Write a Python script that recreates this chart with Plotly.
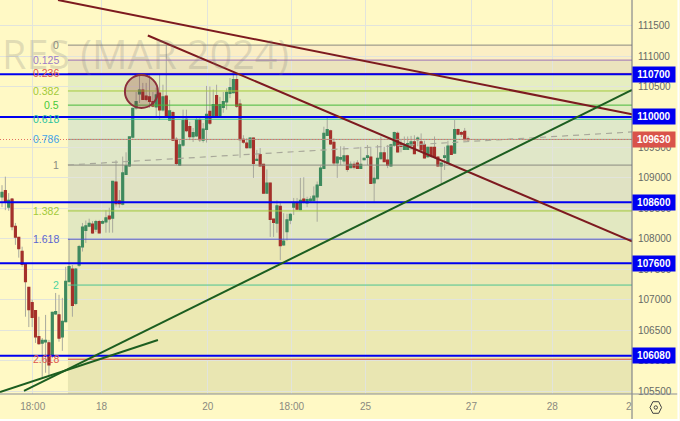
import plotly.graph_objects as go

# --- data -----------------------------------------------------------------
opens = [108690,108790,108520,108650,108200,108020,107790,107580,107200,106950,
106820,106390,106290,106310,106290,106090,106770,106750,106390,106640,
107300,107500,106940,107570,107870,108140,108210,108240,108160,108280,
108260,108280,108370,108340,108930,108620,108570,109060,109200,109670,
110150,110380,110440,110340,110330,110250,110170,110390,110120,110340,
109950,110070,109630,109210,109540,109960,109840,109680,109690,109950,
109620,109800,110090,110030,110350,110030,110160,110250,110390,110400,
110610,110210,109630,109570,109500,109650,109290,109380,109220,108750,
108910,108320,108260,108530,107900,108120,108310,108520,108590,108480,
108650,108590,108630,108630,108690,108880,109160,109700,109770,109580,
109250,109310,109280,109360,109170,109220,109240,109160,109300,109340,
109340,108920,108990,109320,109410,109290,109200,109540,109730,109560,
109470,109470,109540,109590,109630,109590,109540,109350,109500,109500,
109340,109200,109340,109240,109520,109410,109790,109740,109760,109640]
highs = [108880,109020,108750,108670,108260,108030,107870,107600,107210,107000,
106830,106720,106370,106750,106340,106800,107110,107080,107030,107540,
108000,107570,107520,107900,108260,108300,108330,108290,108310,108310,
108310,108470,108510,108950,109290,108800,109350,109420,109670,110150,
110410,110690,110560,110560,110690,110410,110480,110690,110530,111180,
110280,110100,109670,109620,110120,110120,109920,109820,109980,110000,
109900,110510,110500,110450,110530,110330,110410,110470,110640,110690,
110720,110290,109700,109650,109670,109660,109460,109490,109230,109140,
108920,108325,108630,108610,108420,108410,108420,108670,108670,109000,
109010,108690,108700,108860,108940,109200,109840,109990,109790,109650,
109350,109520,109520,109380,109270,109270,109290,109510,109330,109540,
109510,109180,109540,109680,109510,109540,109560,109760,109760,109620,
109680,109680,109690,109700,109680,109730,109610,109510,109510,109680,
109340,109240,109510,109610,109540,109950,109810,109770,109820,109680]
lows = [108520,108470,108460,108140,107900,107690,107540,106720,106550,106550,
106290,106260,105710,105800,105760,106040,106750,106310,106160,106630,
107290,106720,106910,107540,107790,107930,108190,108080,108110,108090,
108240,108100,108100,108100,108530,108510,108550,109060,109180,109650,
110120,110230,110280,110260,110150,110160,110000,109950,110090,110000,
109950,109610,109210,109200,109510,109750,109620,109590,109670,109590,
109580,109580,109870,110030,110000,110030,110070,110120,110310,110390,
110150,109330,109560,109480,109480,109000,109280,109190,108740,108740,
108030,108030,108100,107650,107890,107970,108240,108390,108470,108470,
108580,108520,108590,108620,108280,108880,109160,109700,109540,109210,
109000,109210,109230,109100,109160,109140,109150,109160,109290,109210,
108900,108610,108980,109300,109270,109160,109180,109510,109420,109420,
109460,109460,109460,109390,109520,109420,109320,109330,109330,109320,
109180,108910,109130,109240,109390,109400,109700,109670,109620,109610]
closes = [108760,108610,108630,108200,108030,107840,107580,107300,106840,106710,
106390,106280,106330,106330,105930,106790,106800,106370,106640,107300,
107540,106910,107500,107870,108190,108210,108250,108100,108280,108100,
108280,108340,108330,108940,108580,108580,109080,109200,109670,110140,
110250,110440,110290,110290,110260,110180,110360,110120,110330,110010,
110100,109620,109240,109540,109940,109780,109680,109740,109950,109630,
109800,110040,109900,110200,110030,110200,110250,110400,110480,110610,
110180,109630,109590,109500,109650,109240,109300,109200,108750,108910,
108320,108270,108540,107890,107960,108310,108400,108580,108490,108630,
108600,108640,108650,108700,108880,109160,109730,109790,109560,109250,
109340,109330,109360,109140,109220,109180,109160,109220,109320,109360,
108910,108990,109320,109410,109270,109210,109540,109740,109430,109520,
109540,109560,109590,109400,109650,109460,109330,109500,109360,109340,
109200,109240,109360,109520,109390,109790,109720,109720,109630,109630]

y_ticks = [105500,106000,106500,107000,107500,108000,108500,109000,109500,110000,110500,111000,111500]
x_tick_vals = [9.15,29.7,61.4,86.35,108.4,140,164.1]
x_tick_text = ["18:00","18","20","18:00","25","27","28"]

fib_labels = ["0","0.125","0.236","0.382","0.5","0.618","0.786","1","1.382","1.618","2","2.618"]
fib_prices = [111180,110934,110715,110427,110195,109963,109632,109210,108457,107993,107240,106022]
fib_line_colors = ["#8a8a80","#9c6fb8","#d85a4e","#a3c93a","#46b93a","#2cc3a0","#9a9a90","#8a8a80","#a3c93a","#4a55c8","#4cc490","#d9483f"]
fib_text_colors = ["#8a8a80","#9c7cc8","#e0584e","#a3c93a","#46c93a","#2cc3a0","#45a5e8","#8a8a80","#a3c93a","#5a65d0","#4cd4a0","#e0584e"]
band_colors = ["#fbeec5","#ebe3bd","#e6eec0","#e3ecc0","#e1ebc2","#dfe8c9","#e0e7c8","#e0e2c3","#e2e8c1","#ebe8b4","#ece9b3","#e9e6b2"]

blue_levels = [110700,110000,108600,107600,106080]
last_price = 109630

line_dark1_x = [16.7,187.9];  line_dark1_y = [111921,110044]
line_dark2_x = [43.5,187.9];  line_dark2_y = [111338,107956]
line_green1_x = [6.56,187.9]; line_green1_y = [105501,110443]
line_green2_x = [-0.6,46.5];  line_green2_y = [105484,106338]
line_dash_x = [19.67,187.9];  line_dash_y = [109212,109754]

X_MIN, X_MAX = -0.596, 187.9
Y_MIN, Y_MAX = 105451, 111921
FIB_X0 = 19.67
BG = "#fff9c5"
PW, PH = 632.5, 394.0
def px(v): return v / PW
def py(v): return (PH - v) / PH

idx = list(range(len(opens)))
fig = go.Figure()

# fib lines
for p, c in zip(fib_prices, fib_line_colors):
    fig.add_trace(go.Scatter(x=[FIB_X0, X_MAX], y=[p, p], mode="lines",
                             line=dict(color=c, width=1), hoverinfo="skip", showlegend=False))
# dashed + last price
fig.add_trace(go.Scatter(x=line_dash_x, y=line_dash_y, mode="lines",
                         line=dict(color="#a8a89a", width=1.2, dash="6px,5px"), showlegend=False))
fig.add_trace(go.Scatter(x=[X_MIN, X_MAX], y=[last_price, last_price], mode="lines",
                         line=dict(color="#e2705f", width=1, dash="1px,2px"), showlegend=False))
# wicks
fig.add_trace(go.Candlestick(x=idx, open=opens, high=highs, low=lows, close=closes,
    increasing=dict(line=dict(color="#a9aa9d", width=1), fillcolor="#a9aa9d"),
    decreasing=dict(line=dict(color="#a9aa9d", width=1), fillcolor="#a9aa9d"),
    whiskerwidth=0, showlegend=False, hoverinfo="skip"))
# bodies
body_hi = [max(o, c) for o, c in zip(opens, closes)]
body_lo = [min(o, c) for o, c in zip(opens, closes)]
fig.add_trace(go.Candlestick(x=idx, open=opens, high=body_hi, low=body_lo, close=closes,
    increasing=dict(line=dict(color="#3f8a5e", width=1.5), fillcolor="#3f8a5e"),
    decreasing=dict(line=dict(color="#a5302a", width=1.5), fillcolor="#a5302a"),
    whiskerwidth=0, showlegend=False, hoverinfo="skip"))
# blue levels
for p in blue_levels:
    fig.add_trace(go.Scatter(x=[X_MIN, X_MAX], y=[p, p], mode="lines",
                             line=dict(color="#0000f0", width=2), showlegend=False))
# trend lines
for xs, ys, col in [(line_dark1_x, line_dark1_y, "#7d1a1f"), (line_dark2_x, line_dark2_y, "#7d1a1f"),
                    (line_green1_x, line_green1_y, "#1c5e20"), (line_green2_x, line_green2_y, "#1c5e20")]:
    fig.add_trace(go.Scatter(x=xs, y=ys, mode="lines", line=dict(color=col, width=2), showlegend=False))

shapes = []
# fib bands
lower = fib_prices[1:] + [Y_MIN]
for top, bot, col in zip(fib_prices, lower, band_colors):
    shapes.append(dict(type="rect", xref="x", yref="y", x0=FIB_X0, x1=X_MAX, y0=bot, y1=top,
                       fillcolor=col, line=dict(width=0), layer="below"))
# circle marker
shapes.append(dict(type="circle", xref="x", yref="y", x0=36.66, x1=46.5, y0=110148, y1=110689,
                   fillcolor="rgba(125,40,50,0.27)", line=dict(color="#8b2f3a", width=2), layer="above"))
# axis borders
shapes.append(dict(type="line", xref="paper", yref="paper", x0=1, x1=1, y0=py(0), y1=py(421),
                   line=dict(color="#6f7380", width=1)))
shapes.append(dict(type="line", xref="paper", yref="paper", x0=0, x1=px(678), y0=0, y1=0,
                   line=dict(color="#8b8f98", width=1)))
# white page edge
shapes.append(dict(type="rect", xref="paper", yref="paper", x0=px(678), x1=px(680), y0=py(421), y1=py(0),
                   fillcolor="white", line=dict(width=0)))
shapes.append(dict(type="rect", xref="paper", yref="paper", x0=0, x1=px(680), y0=py(421), y1=py(419),
                   fillcolor="white", line=dict(width=0)))
# settings hexagon icon
cx, cy, r = 656.3, 407.5, 5.8
hx = [(cx - r, cy), (cx - r/2, cy - r), (cx + r/2, cy - r), (cx + r, cy), (cx + r/2, cy + r), (cx - r/2, cy + r)]
path = "M " + " L ".join(f"{px(a):.5f},{py(b):.5f}" for a, b in hx) + " Z"
shapes.append(dict(type="path", xref="paper", yref="paper", path=path, line=dict(color="#444", width=1)))
shapes.append(dict(type="circle", xref="paper", yref="paper", x0=px(cx-1.7), x1=px(cx+1.7), y0=py(cy+1.7), y1=py(cy-1.7),
                   line=dict(color="#444", width=1)))

ann = []
FONT = "Liberation Sans"
# watermark
ann.append(dict(text="RES (MAR 2024)", xref="paper", yref="paper", x=px(291), y=py(54), xanchor="right", yanchor="middle",
                showarrow=False, font=dict(family="Open Sans", size=39.5, color="rgba(120,120,120,0.22)")))
# fib labels
for t, p, c in zip(fib_labels, fib_prices, fib_text_colors):
    ann.append(dict(text=t, xref="paper", yref="y", x=px(61), y=p, xanchor="right", yanchor="middle",
                    showarrow=False, font=dict(family=FONT, size=10.5, color=c)))
# price tags
for p in blue_levels:
    ann.append(dict(text=f"<b>{p}</b>", xref="paper", yref="y", x=px(632.8), y=p, xanchor="left", yanchor="middle",
                    showarrow=False, width=42, height=15, bgcolor="#0000f0", borderpad=0,
                    font=dict(family=FONT, size=10, color="white")))
ann.append(dict(text=f"<b>{last_price}</b>", xref="paper", yref="y", x=px(632.8), y=last_price, xanchor="left", yanchor="middle",
                showarrow=False, width=42, height=15, bgcolor="#d9534a", borderpad=0,
                font=dict(family=FONT, size=10, color="white")))
# clipped last date label
ann.append(dict(text="2", xref="paper", yref="paper", x=px(629), y=py(406.5), xanchor="center", yanchor="middle",
                showarrow=False, font=dict(family=FONT, size=10, color="#8a8a80")))

fig.update_layout(
    width=680, height=421, autosize=False,
    margin=dict(l=0, r=47.5, t=0, b=27, pad=0),
    paper_bgcolor=BG, plot_bgcolor=BG, showlegend=False, hovermode=False,
    shapes=shapes, annotations=ann,
    font=dict(family=FONT),
    xaxis=dict(range=[X_MIN, X_MAX], tickmode="array", tickvals=x_tick_vals, ticktext=x_tick_text,
               showgrid=True, gridcolor="#e2e4dc", gridwidth=1, zeroline=False, showline=False,
               rangeslider=dict(visible=False), ticks="outside", ticklen=3, tickcolor="rgba(0,0,0,0)",
               tickfont=dict(family=FONT, size=10, color="#8a8a80")),
    yaxis=dict(range=[Y_MIN, Y_MAX], side="right", tickmode="array", tickvals=y_ticks,
               ticktext=[str(v) for v in y_ticks], showgrid=True, gridcolor="#e2e4dc", gridwidth=1,
               zeroline=False, showline=False, ticks="outside", ticklen=3, tickcolor="rgba(0,0,0,0)",
               tickfont=dict(family=FONT, size=10, color="#666a66")),
)

fig.write_html("out.html", config=dict(displayModeBar=False),
               post_script="document.body.style.margin='0';document.body.style.overflow='hidden';")
